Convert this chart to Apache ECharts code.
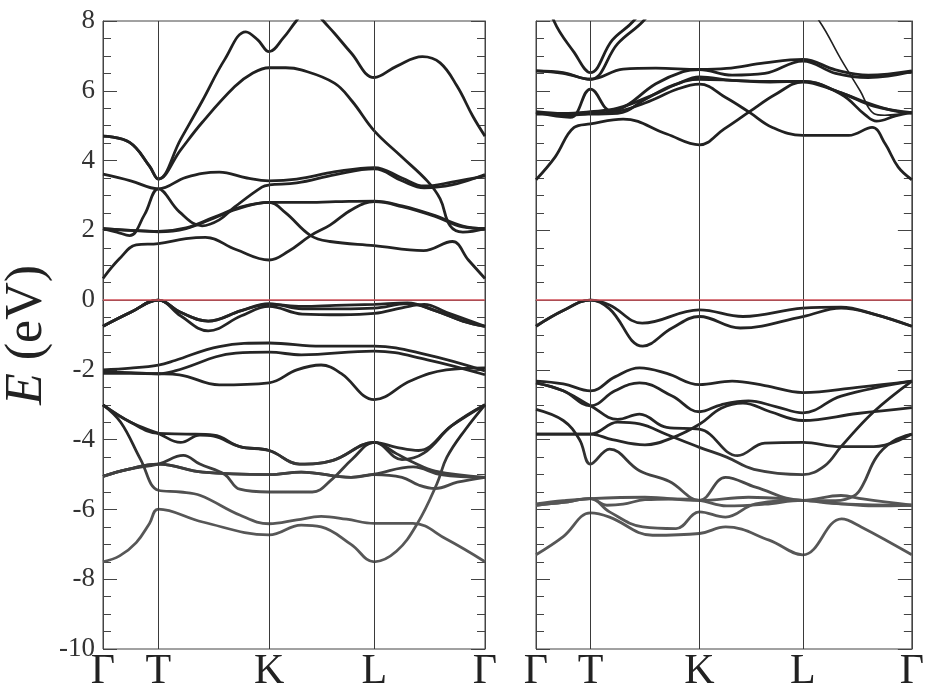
<!DOCTYPE html>
<html>
<head>
<meta charset="utf-8">
<script src="https://cdn.jsdelivr.net/npm/echarts@6/dist/echarts.min.js"></script>
<style>html,body{margin:0;background:#fff}#chart{width:927px;height:693px}</style>
</head>
<body>
<div id="chart"></div>
<script>
// k-path positions of the high-symmetry points and their labels
var kPos = [0, 1, 3, 4.9, 6.9];
var kLabels = ['Γ', 'T', 'K', 'L', 'Γ'];
var vLines = [1, 3, 4.9];

// left panel, bands as [k, E(eV)]
var leftConduction = [
  [[0,4.7],[0.48,4.52],[0.84,3.84],[1,3.47],[1.4,4.6],[1.79,5.7],[2.2,6.9],[2.58,7.69],[2.8,7.45],[3,7.12],[3.25,7.5],[3.49,8.0],[3.74,8.45],[3.98,8.0],[4.18,7.65],[4.48,7.09],[4.9,6.38],[5.3,6.7],[5.77,6.98],[6.09,6.8],[6.4,6.12],[6.68,5.27],[6.9,4.7]],
  [[0,4.7],[0.48,4.52],[0.84,3.84],[1,3.47],[1.4,4.3],[1.79,5.09],[2.38,6.12],[2.7,6.5],[3,6.66],[3.3,6.66],[3.58,6.6],[4.18,6.22],[4.5,5.7],[4.9,4.85],[5.38,4.13],[5.86,3.41],[6.09,2.9],[6.27,2.13],[6.5,1.95],[6.9,2.05]],
  [[0,3.61],[0.5,3.42],[1,3.19],[1.5,3.52],[2.1,3.67],[2.6,3.5],[3,3.42],[3.5,3.47],[4.2,3.68],[4.9,3.8],[5.4,3.5],[5.8,3.27],[6.3,3.38],[6.9,3.56]],
  [[0,2.05],[0.25,1.95],[0.48,1.85],[0.75,2.45],[1,3.19],[1.38,2.53],[1.79,2.13],[2.1,2.3],[2.38,2.67],[2.87,3.24],[3,3.3],[3.5,3.36],[4.2,3.6],[4.9,3.76],[5.4,3.42],[5.8,3.22],[6.3,3.3],[6.9,3.6]],
  [[0,2.05],[0.5,2.0],[1,1.96],[1.5,2.05],[2,2.35],[2.5,2.65],[3,2.8],[3.6,2.8],[4.2,2.82],[4.9,2.84],[5.4,2.7],[6.0,2.42],[6.5,2.12],[6.9,2.05]],
  [[0,2.05],[0.5,2.0],[1,1.97],[1.5,2.07],[2,2.37],[2.5,2.67],[3,2.8],[3.3,2.5],[3.75,1.85],[4.1,1.68],[4.9,1.56],[5.79,1.42],[6.31,1.68],[6.6,1.15],[6.9,0.62]],
  [[0,0.62],[0.3,1.19],[0.6,1.58],[1,1.62],[1.5,1.76],[1.85,1.8],[2.4,1.45],[3,1.15],[3.35,1.4],[3.75,1.85],[4.1,2.15],[4.5,2.6],[4.9,2.82],[5.4,2.68],[6.0,2.4],[6.5,2.1],[6.9,2.05]]
];
var leftValence = [
  [[0,-0.75],[0.5,-0.35],[1,0],[1.4,-0.35],[1.9,-0.6],[2.5,-0.3],[3,-0.12],[3.6,-0.18],[4.2,-0.15],[4.9,-0.12],[5.5,-0.08],[6.0,-0.3],[6.5,-0.6],[6.9,-0.75]],
  [[0,-0.75],[0.5,-0.35],[1,0],[1.4,-0.45],[1.9,-0.88],[2.5,-0.45],[3,-0.18],[3.6,-0.4],[4.3,-0.42],[4.9,-0.38],[5.4,-0.22],[5.8,-0.12],[6.2,-0.35],[6.9,-0.75]],
  [[0,-0.75],[0.5,-0.35],[1,0],[1.4,-0.35],[1.9,-0.6],[2.5,-0.3],[3,-0.1],[3.6,-0.25],[4.3,-0.25],[4.9,-0.23],[5.5,-0.1],[6.0,-0.3],[6.5,-0.6],[6.9,-0.75]],
  [[0,-2.0],[0.5,-1.95],[1,-1.86],[1.3,-1.73],[2.1,-1.33],[3,-1.23],[3.94,-1.32],[4.9,-1.32],[5.86,-1.57],[6.9,-2.03]],
  [[0,-2.06],[0.5,-2.08],[1,-2.11],[1.3,-2.03],[2.4,-1.52],[3,-1.49],[3.58,-1.57],[4.9,-1.46],[5.86,-1.71],[6.9,-2.14]],
  [[0,-2.1],[0.5,-2.1],[1,-2.11],[1.38,-2.14],[2.1,-2.43],[3,-2.37],[3.5,-2.0],[3.94,-1.86],[4.3,-2.1],[4.9,-2.85],[5.56,-2.31],[6.2,-2.0],[6.9,-1.94]]
];
var leftDeep = [
  [[0,-3.0],[0.5,-3.5],[1,-3.82],[1.5,-3.84],[2.0,-3.87],[2.47,-4.2],[3,-4.31],[3.55,-4.7],[4.14,-4.6],[4.9,-4.08],[5.3,-4.22],[5.7,-4.31],[6.3,-3.6],[6.9,-3.0]],
  [[0,-3.0],[0.5,-3.5],[1,-3.82],[1.4,-4.08],[1.75,-3.87],[2.0,-3.9],[2.47,-4.2],[3,-4.31],[3.55,-4.7],[4.14,-4.6],[4.9,-4.08],[5.4,-4.57],[5.8,-4.38],[6.3,-3.6],[6.9,-3.0]],
  [[0,-3.0],[0.32,-3.5],[0.68,-4.57],[1,-5.45],[1.4,-5.5],[1.76,-5.6],[2.47,-6.16],[3,-6.41],[3.5,-6.3],[3.94,-6.2],[4.4,-6.28],[4.9,-6.4],[5.6,-6.4],[6.2,-6.85],[6.9,-7.5]],
  [[0,-7.5],[0.3,-7.33],[0.6,-6.95],[0.84,-6.4],[1,-5.99],[1.8,-6.36],[3,-6.73],[3.58,-6.45],[3.94,-6.5],[4.48,-7.0],[4.9,-7.5],[5.3,-7.2],[5.68,-6.4],[6.03,-5.27],[6.21,-4.51],[6.55,-3.7],[6.9,-3.0]],
  [[0,-5.05],[0.45,-4.85],[1,-4.7],[1.8,-4.93],[3,-5.0],[3.58,-4.93],[4.48,-5.08],[4.9,-4.99],[5.6,-4.78],[6.1,-5.0],[6.9,-5.08]],
  [[0,-5.05],[0.45,-4.85],[1,-4.7],[1.45,-4.45],[1.75,-4.7],[2.2,-5.0],[2.47,-5.42],[3,-5.5],[3.78,-5.5],[4.14,-5.13],[4.5,-4.56],[4.9,-4.08],[5.3,-4.4],[5.6,-4.65],[6.0,-4.9],[6.9,-5.08]],
  [[0,-5.05],[0.45,-4.85],[1,-4.7],[1.8,-4.93],[3,-5.0],[3.58,-4.93],[4.48,-5.08],[4.9,-5.0],[5.4,-5.08],[5.7,-5.3],[6.0,-5.4],[6.4,-5.22],[6.9,-5.08]]
];

// right panel
var rightConduction = [
  [[0,9.6],[0.33,8.0],[0.7,7.1],[1,6.52],[1.4,7.45],[1.79,8.0],[2.1,8.7]],
  [[0,6.57],[0.5,6.5],[1,6.33],[1.5,7.35],[1.97,8.0],[2.3,8.7]],
  [[0,6.57],[0.5,6.52],[1,6.33],[1.6,6.62],[2.2,6.65],[3,6.61],[3.5,6.64],[4.2,6.8],[4.9,6.9],[5.5,6.6],[6.1,6.45],[6.9,6.57]],
  [[0,5.38],[0.6,5.3],[1,5.35],[1.5,5.45],[2.2,6.2],[2.7,6.55],[3,6.61],[3.6,6.45],[4.2,6.5],[4.9,6.85],[5.5,6.5],[6.1,6.38],[6.9,6.55]],
  [[0,3.45],[0.35,4.1],[0.7,4.95],[1,5.05],[1.6,5.19],[2.4,4.76],[3,4.45],[3.45,4.9],[3.92,5.4],[4.4,5.9],[4.9,6.25],[5.5,6.0],[6.0,5.7],[6.5,5.45],[6.9,5.35]],
  [[0,5.38],[0.63,5.24],[1,6.05],[1.4,5.4],[2,5.65],[2.6,6.05],[3,6.19],[3.49,5.8],[3.92,5.38],[4.34,4.95],[4.9,4.72],[5.74,4.72],[6.17,4.95],[6.41,4.48],[6.65,3.81],[6.9,3.45]],
  [[0,5.33],[0.5,5.33],[1,5.33],[1.5,5.35],[2,5.75],[2.5,6.15],[3,6.33],[3.6,6.3],[4.3,6.25],[4.9,6.27],[5.6,5.94],[6.2,5.56],[6.9,5.37]],
  [[0,5.4],[0.5,5.35],[1,5.4],[1.5,5.5],[2.1,5.85],[2.6,6.2],[3,6.4],[3.6,6.3],[4.3,6.27],[4.9,6.27],[5.6,5.9],[6.05,5.3],[6.25,5.13],[6.6,5.28],[6.9,5.38]]
];
var rightThin = [
  [[4.6,9.2],[5.2,8.0],[5.6,6.9],[5.95,6.0],[6.2,5.35],[6.4,5.3],[6.9,5.38]]
];
var rightValence = [
  [[0,-0.75],[0.5,-0.3],[1,0],[1.35,-0.14],[1.95,-0.66],[3,-0.28],[3.8,-0.47],[4.9,-0.23],[5.6,-0.2],[6.2,-0.4],[6.9,-0.75]],
  [[0,-0.75],[0.5,-0.3],[1,0],[1.35,-0.25],[1.96,-1.32],[2.5,-0.8],[3,-0.47],[3.75,-0.8],[4.9,-0.47],[5.6,-0.23],[6.2,-0.4],[6.9,-0.75]],
  [[0,-2.32],[0.5,-2.4],[1,-2.6],[1.45,-2.2],[1.9,-1.94],[2.4,-2.1],[3,-2.42],[3.6,-2.32],[4.2,-2.45],[4.9,-2.65],[5.9,-2.5],[6.9,-2.32]],
  [[0,-2.37],[0.5,-2.6],[1,-3.03],[1.45,-2.6],[1.9,-2.37],[2.5,-2.75],[3,-3.2],[3.4,-3.0],[3.9,-2.89],[4.4,-3.05],[4.9,-3.23],[5.6,-2.75],[6.9,-2.32]],
  [[0,-2.37],[0.5,-2.6],[1,-3.03],[1.5,-3.42],[1.9,-3.27],[2.4,-3.65],[3,-3.7],[3.7,-4.46],[4.2,-4.1],[4.9,-4.08],[5.6,-4.2],[6.2,-4.2],[6.9,-3.84]],
  [[0,-3.84],[0.5,-3.84],[1,-3.84],[1.4,-4.0],[2.0,-4.15],[2.5,-3.95],[3,-3.56],[3.4,-3.1],[3.8,-2.95],[4.3,-3.2],[4.9,-3.45],[5.9,-3.25],[6.9,-3.08]],
  [[0,-3.84],[0.5,-3.84],[1,-3.84],[1.5,-3.5],[1.9,-3.55],[2.4,-3.85],[3,-4.22],[3.5,-4.5],[4.0,-4.85],[4.9,-5.0],[5.3,-4.75],[5.6,-4.2],[6.2,-3.2],[6.9,-2.32]],
  [[0,-3.13],[0.5,-3.45],[0.8,-4.0],[1,-4.7],[1.35,-4.27],[1.9,-4.89],[2.45,-5.2],[3,-5.74],[3.48,-5.08],[4.03,-5.36],[4.9,-5.74],[5.6,-5.6],[6.0,-5.7],[6.9,-5.88]]
];
var rightDeep = [
  [[0,-5.84],[0.5,-5.75],[1,-5.69],[2,-5.65],[3,-5.74],[3.9,-5.65],[4.9,-5.74],[5.6,-5.84],[6.9,-5.88]],
  [[0,-5.88],[0.5,-5.8],[1,-5.69],[1.3,-5.88],[1.6,-5.85],[2,-5.72],[2.5,-5.7],[3,-5.74],[3.5,-5.9],[4.2,-5.85],[4.9,-5.74],[5.5,-5.75],[5.85,-5.6],[6.0,-5.3],[6.25,-4.5],[6.55,-4.05],[6.9,-3.84]],
  [[0,-7.3],[0.5,-6.78],[1,-6.1],[1.35,-6.22],[2.14,-6.74],[3,-6.69],[3.48,-6.5],[4.28,-6.88],[4.9,-7.3],[5.61,-6.27],[5.97,-6.5],[6.9,-7.3]],
  [[0,-5.88],[0.5,-5.8],[1,-5.69],[1.35,-6.07],[1.96,-6.5],[2.57,-6.55],[3,-6.07],[3.48,-6.22],[4.03,-5.84],[4.9,-5.74],[5.6,-5.84],[6.2,-5.9],[6.9,-5.88]]
];

var chart = echarts.init(document.getElementById('chart'));

// scanned look: bands go from near black to grey in the low-energy region
var bandColor = {
  type: 'linear', x: 0, y: 0, x2: 0, y2: 693, global: true,
  colorStops: [
    {offset: 0, color: '#1f1f1f'},
    {offset: 440 / 693, color: '#262626'},
    {offset: 500 / 693, color: '#565656'},
    {offset: 1, color: '#5a5a5a'}
  ]
};

var serif = '"Liberation Serif", "DejaVu Serif", serif';

function xAxisFor(grid) {
  return {
    type: 'value', gridIndex: grid, min: 0, max: 6.9,
    axisLine: {show: true, lineStyle: {color: '#444', width: 1}},
    axisTick: {show: false},
    splitLine: {show: false},
    axisLabel: {
      customValues: kPos,
      formatter: function (v) { return kLabels[kPos.indexOf(v)]; },
      fontFamily: serif, fontSize: 42, color: '#222', margin: 2
    }
  };
}
function yAxisFor(grid, side, labels) {
  var ax = {
    type: 'value', gridIndex: grid, position: side, min: -10, max: 8, interval: 2,
    axisLine: {show: true, lineStyle: {color: '#444', width: 1}},
    axisTick: {show: true, inside: true, length: 14, lineStyle: {color: '#444'}},
    minorTick: {show: true, splitNumber: 4, length: 8, lineStyle: {color: '#444'}},
    splitLine: {show: false},
    axisLabel: {show: labels, fontFamily: serif, fontSize: 27, color: '#333', margin: 8}
  };
  if (labels) {
    ax.name = '{i|E} (eV)';
    ax.nameLocation = 'middle';
    ax.nameRotate = 90;
    ax.nameGap = 50;
    ax.nameTextStyle = {
      fontFamily: serif, fontSize: 52, color: '#222',
      rich: {i: {fontFamily: serif, fontSize: 52, fontStyle: 'italic', color: '#222'}}
    };
  }
  return ax;
}

var series = [];
function addBands(list, grid, width) {
  list.forEach(function (band) {
    series.push({
      type: 'line', xAxisIndex: grid, yAxisIndex: grid * 2,
      data: band, smooth: 0.4, showSymbol: false, silent: true,
      lineStyle: {color: bandColor, width: width}, z: 3
    });
  });
}
// vertical lines at T, K, L and red Fermi level
[0, 1].forEach(function (g) {
  series.push({
    type: 'line', xAxisIndex: g, yAxisIndex: g * 2, data: [], silent: true, z: 2,
    markLine: {
      silent: true, symbol: 'none', animation: false, label: {show: false},
      data: vLines.map(function (x) {
        return {xAxis: x, lineStyle: {color: '#3a3a3a', width: 1, type: 'solid'}};
      }).concat([{yAxis: 0, lineStyle: {color: '#cf5058', width: 1.5, type: 'solid'}}])
    }
  });
});
addBands(leftConduction, 0, 2.8);
addBands(leftValence, 0, 2.8);
addBands(leftDeep, 0, 2.8);
addBands(rightConduction, 1, 2.8);
addBands(rightThin, 1, 1.6);
addBands(rightValence, 1, 2.8);
addBands(rightDeep, 1, 2.8);

chart.setOption({
  backgroundColor: '#fff',
  animation: false,
  grid: [
    {left: 100, top: 21, width: 385, height: 632, show: true, borderColor: '#444', borderWidth: 1},
    {left: 536, top: 21, width: 378, height: 632, show: true, borderColor: '#444', borderWidth: 1}
  ],
  xAxis: [xAxisFor(0), xAxisFor(1)],
  yAxis: [yAxisFor(0, 'left', true), yAxisFor(0, 'right', false), yAxisFor(1, 'left', false), yAxisFor(1, 'right', false)],
  series: series
});
</script>
</body>
</html>
